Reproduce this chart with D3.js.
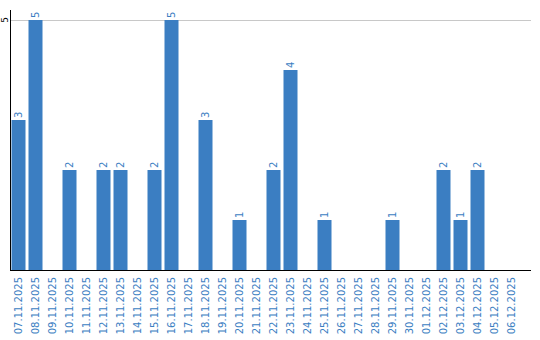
<!DOCTYPE html>
<html><head><meta charset="utf-8">
<script src="https://cdn.jsdelivr.net/npm/d3@7"></script>
<style>body{margin:0;background:#fff}svg{display:block}</style>
</head><body>
<script>
const dates = ["07.11.2025","08.11.2025","09.11.2025","10.11.2025","11.11.2025","12.11.2025","13.11.2025","14.11.2025","15.11.2025","16.11.2025","17.11.2025","18.11.2025","19.11.2025","20.11.2025","21.11.2025","22.11.2025","23.11.2025","24.11.2025","25.11.2025","26.11.2025","27.11.2025","28.11.2025","29.11.2025","30.11.2025","01.12.2025","02.12.2025","03.12.2025","04.12.2025","05.12.2025","06.12.2025"];
const values = [3,5,0,2,0,2,2,0,2,5,0,3,0,1,0,2,4,0,1,0,0,0,1,0,0,2,1,2,0,0];
const yTicks = [5];

const W = 540, H = 340;
const color = "#3b7ec2";
const svg = d3.select("body").append("svg").attr("width", W).attr("height", H);

const x = d3.scaleBand().domain(dates).range([10, 520]).paddingInner(3/17).paddingOuter(3/34);
const y = d3.scaleLinear().domain([0, 5]).range([270, 20]);

// gridline
svg.append("g").selectAll("line").data(yTicks).join("line")
  .attr("x1", 10).attr("x2", 531).attr("y1", d => y(d) + 0.5).attr("y2", d => y(d) + 0.5)
  .attr("stroke", "#c8c8c8").attr("stroke-width", 1);

// y tick labels
svg.append("g").selectAll("text").data(yTicks).join("text")
  .attr("transform", d => `translate(7.5,${y(d)}) rotate(-90)`)
  .attr("text-anchor", "middle")
  .style("font-family", "DejaVu Sans").style("font-size", "9px").attr("fill", "#000")
  .text(d => d);

// bars
const data = dates.map((d, i) => ({d, v: values[i]}));
svg.append("g").selectAll("rect").data(data.filter(e => e.v > 0)).join("rect")
  .attr("x", e => x(e.d)).attr("width", x.bandwidth())
  .attr("y", e => y(e.v)).attr("height", e => y(0) - y(e.v))
  .attr("fill", color);

// value labels
svg.append("g").selectAll("text").data(data.filter(e => e.v > 0)).join("text")
  .attr("transform", e => `translate(${x(e.d) + x.bandwidth()/2 + 3.5},${y(e.v) - 2}) rotate(-90)`)
  .attr("text-anchor", "start")
  .style("font-family", "DejaVu Sans").style("font-size", "10px").attr("fill", color)
  .text(e => e.v);

// axes lines
svg.append("line").attr("x1", 10.5).attr("x2", 10.5).attr("y1", 10).attr("y2", 270).attr("stroke", "#000");
svg.append("line").attr("x1", 10).attr("x2", 531).attr("y1", 270.5).attr("y2", 270.5).attr("stroke", "#000");

// x labels
svg.append("g").selectAll("text").data(dates).join("text")
  .attr("transform", d => `translate(${x(d) + x.bandwidth()/2 + 3},277) rotate(-90)`)
  .attr("text-anchor", "end")
  .style("font-family", "DejaVu Sans").style("font-size", "10px").attr("fill", color)
  .text(d => d);
</script>
</body></html>
